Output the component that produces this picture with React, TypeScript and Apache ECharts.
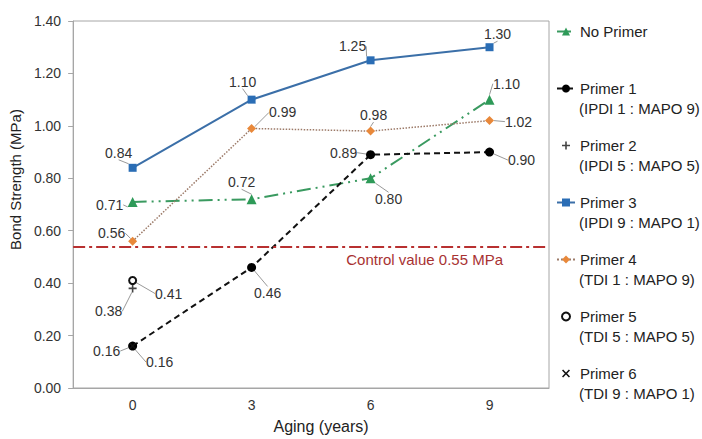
import React, { useEffect, useRef } from "react";
import * as echarts from "echarts";

const categories = ["0", "3", "6", "9"];
const yTicks = { min: 0, max: 1.4, interval: 0.2 };

const noPrimer = [0.71, 0.72, 0.8, 1.1];
const primer1 = [0.16, 0.46, 0.89, 0.9];
const primer2 = [0.38];
const primer3 = [0.84, 1.1, 1.25, 1.3];
const primer4 = [0.56, 0.99, 0.98, 1.02];
const primer5 = [0.41];
const primer6 = [0.16];

const seriesNames = ["No Primer", "Primer 1", "Primer 2", "Primer 3", "Primer 4", "Primer 5", "Primer 6"];
const subNames = [
  "(IPDI 1 : MAPO 9)",
  "(IPDI 5 : MAPO 5)",
  "(IPDI 9 : MAPO 1)",
  "(TDI 1 : MAPO 9)",
  "(TDI 5 : MAPO 5)",
  "(TDI 9 : MAPO 1)",
];

const controlValue = 0.535;
const controlLabel = "Control value 0.55 MPa";

// label offsets (px) from each point, style only
const labelOffsets: number[][][] = [
  [[-23, 3], [-10, -17], [18, 21], [17, -16]],
  [[-26, 5], [16, 26], [-27, -2], [32, 8]],
  [[-24, 23]],
  [[-14, -15], [-9, -18], [-18, -14], [8, -13]],
  [[-21, -8], [31, -16], [3, -16], [29, 1]],
  [[36, 13]],
  [[27, 16]],
];

const FONT = "Liberation Sans, Arial, sans-serif";

export default function App() {
  const ref = useRef<HTMLDivElement>(null);
  useEffect(() => {
    document.body.style.margin = "0";
    if (!ref.current) return;
    const chart = echarts.init(ref.current, null, { renderer: "svg" });

    const mkLayout = (si: number) => (p: any) => {
      const off = labelOffsets[si][p.dataIndex] || [0, -12];
      return {
        x: p.rect.x + p.rect.width / 2 + off[0],
        y: p.rect.y + p.rect.height / 2 + off[1],
        align: "center",
        verticalAlign: "middle",
      };
    };

    const common = (si: number) => ({
      type: "line",
      name: seriesNames[si],
      label: {
        show: true,
        formatter: (p: any) => Number(p.value).toFixed(2),
        fontSize: 14,
        fontFamily: FONT,
        color: "#333",
      },
      labelLine: { show: true, lineStyle: { color: "#999", width: 1 } },
      labelLayout: mkLayout(si),
    });

    const crossPath = "path://M4,0H6V4H10V6H6V10H4V6H0V4H4Z";
    const xPath = "path://M1.4,0L5,3.6L8.6,0L10,1.4L6.4,5L10,8.6L8.6,10L5,6.4L1.4,10L0,8.6L3.6,5L0,1.4Z";

    const option: any = {
      animation: false,
      textStyle: { fontFamily: FONT },
      grid: { left: 73, right: 153, top: 21, bottom: 46, show: true, borderColor: "#a6a6a6", borderWidth: 1 },
      xAxis: {
        type: "category",
        data: categories,
        boundaryGap: true,
        name: "Aging (years)",
        nameLocation: "middle",
        nameGap: 30,
        nameTextStyle: { fontSize: 16, color: "#222", fontFamily: FONT, padding: [0, 0, 0, 20] },
        axisLine: { lineStyle: { color: "#a6a6a6" } },
        axisTick: { alignWithLabel: true, length: 5, lineStyle: { color: "#a6a6a6" } },
        axisLabel: { fontSize: 14, color: "#333", margin: 10, fontFamily: FONT },
        splitLine: { show: false },
      },
      yAxis: {
        type: "value",
        min: yTicks.min,
        max: yTicks.max,
        interval: yTicks.interval,
        name: "Bond Strength (MPa)",
        nameLocation: "middle",
        nameGap: 45,
        nameTextStyle: { fontSize: 15, color: "#222", fontFamily: FONT, padding: [0, 0, 0, 50] },
        axisLine: { show: true, lineStyle: { color: "#a6a6a6" } },
        axisTick: { show: true, length: 5, lineStyle: { color: "#a6a6a6" } },
        axisLabel: { fontSize: 14, color: "#333", margin: 12, fontFamily: FONT, formatter: (v: number) => v.toFixed(2) },
        splitLine: { show: false },
      },
      legend: {
        orient: "vertical",
        left: 556,
        top: 23,
        padding: 0,
        itemWidth: 18,
        itemHeight: 10,
        itemGap: 40,
        textStyle: { fontSize: 15, color: "#222", fontFamily: FONT, lineHeight: 17 },
        data: seriesNames,
      },
      graphic: subNames.map((t, i) => ({
        type: "text",
        x: 579,
        y: 108 + 57 * i,
        style: { text: t, fontSize: 15, fontFamily: FONT, fill: "#222", verticalAlign: "middle" },
      })),
      series: [
        {
          ...common(0),
          data: noPrimer,
          symbol: "triangle",
          symbolSize: 10,
          itemStyle: { color: "#2e9a58" },
          lineStyle: { color: "#3a9a60", width: 2, type: [14, 5, 2, 5, 2, 5] },
          markLine: {
            silent: true,
            symbol: "none",
            data: [{ yAxis: controlValue }],
            lineStyle: { color: "#b83030", width: 2, type: [12, 4, 3, 4] },
            label: {
              show: true,
              formatter: controlLabel,
              position: "insideEndBottom",
              distance: [46, 6],
              fontSize: 15,
              color: "#a83232",
              fontFamily: FONT,
            },
          },
        },
        {
          ...common(1),
          data: primer1,
          symbol: "circle",
          symbolSize: 9,
          itemStyle: { color: "#000" },
          lineStyle: { color: "#111", width: 2, type: [6, 4] },
        },
        {
          ...common(2),
          data: primer2,
          symbol: crossPath,
          symbolSize: 8,
          itemStyle: { color: "#444" },
          lineStyle: { opacity: 0 },
        },
        {
          ...common(3),
          data: primer3,
          symbol: "rect",
          symbolSize: 8,
          itemStyle: { color: "#2a6db5" },
          lineStyle: { color: "#3b6fa8", width: 2 },
        },
        {
          ...common(4),
          data: primer4,
          symbol: "diamond",
          symbolSize: 9,
          itemStyle: { color: "#e8883a" },
          lineStyle: { color: "#9c7a68", width: 1.5, type: "dotted" },
        },
        {
          ...common(5),
          data: primer5,
          symbol: "emptyCircle",
          symbolSize: 7,
          itemStyle: { color: "#111", borderWidth: 1.5 },
          lineStyle: { opacity: 0 },
        },
        {
          ...common(6),
          data: primer6,
          symbol: xPath,
          symbolSize: 7,
          itemStyle: { color: "#111" },
          lineStyle: { opacity: 0 },
        },
      ],
    };
    chart.setOption(option);
    return () => chart.dispose();
  }, []);
  return <div ref={ref} style={{ width: 702, height: 439 }} />;
}
